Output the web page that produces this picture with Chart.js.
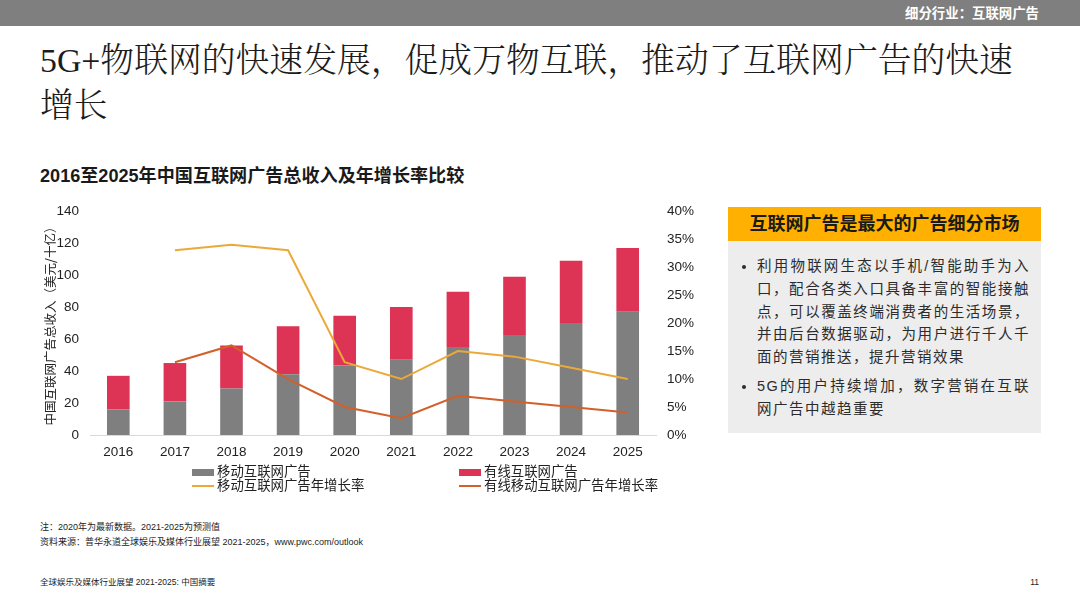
<!DOCTYPE html>
<html lang="zh">
<head>
<meta charset="utf-8">
<title>互联网广告</title>
<script src="https://cdn.jsdelivr.net/npm/chart.js@4"></script>
<style>
  html, body { margin: 0; padding: 0; background: #fff; }
  body { width: 1080px; height: 608px; position: relative; overflow: hidden;
         font-family: "Liberation Sans", "Noto Sans CJK SC", sans-serif; color: #222; }
  .abs { position: absolute; white-space: nowrap; }
  #topbar { left: 0; top: 0; width: 1080px; height: 26px; background: #7f7f7f; }
  #section { right: 41px; top: 5px; font-size: 13.4px; line-height: 18px; font-weight: bold; color: #fff; }
  #title { left: 40px; top: 38px; font-size: 33.8px; line-height: 45px; color: #1c1c1c;
           font-family: "Liberation Serif", "Noto Serif CJK SC", "Noto Sans CJK SC", serif; font-weight: 300; }
  #subtitle { left: 40px; top: 165px; font-size: 18.1px; line-height: 22px; font-weight: bold; color: #1a1a1a; }
  #chartbox { left: 0; top: 192px; width: 720px; height: 273px; }
  .leg { font-size: 13.4px; line-height: 14px; color: #222; }
  .swatch { position: absolute; }
  #panelhead { left: 728px; top: 207px; width: 313px; height: 34px; background: #ffb000; color: #1a1a1a;
               font-size: 18px; line-height: 34px; font-weight: bold; text-align: center; }
  #panel { left: 728px; top: 241px; width: 313px; height: 192px; background: #ededed; white-space: normal; }
  #panel ul { margin: 0; padding: 14px 11px 0 29px; font-size: 14.5px; line-height: 22.8px; color: #2b2b2b; letter-spacing: 1.5px; text-align: justify; }
  #panel li { margin-bottom: 6px; }
  #note { left: 40px; top: 520px; font-size: 9px; line-height: 15px; color: #222; }
  #foot { left: 40px; top: 576px; font-size: 8.5px; line-height: 12px; color: #222; }
  #page { right: 41px; top: 576px; font-size: 8.5px; line-height: 12px; color: #222; }
</style>
</head>
<body>
<div class="abs" id="topbar"></div>
<div class="abs" id="section">细分行业：互联网广告</div>
<div class="abs" id="title">5G+物联网的快速发展，促成万物互联，推动了互联网广告的快速<br>增长</div>
<div class="abs" id="subtitle">2016至2025年中国互联网广告总收入及年增长率比较</div>
<div class="abs" id="chartbox"><canvas id="myChart"></canvas></div>
<div id="legend"></div>
<div class="abs" id="panelhead">互联网广告是最大的广告细分市场</div>
<div class="abs" id="panel"><ul>
  <li>利用物联网生态以手机/智能助手为入口，配合各类入口具备丰富的智能接触点，可以覆盖终端消费者的生活场景，并由后台数据驱动，为用户进行千人千面的营销推送，提升营销效果</li>
  <li>5G的用户持续增加，数字营销在互联网广告中越趋重要</li>
</ul></div>
<div class="abs" id="note">注：2020年为最新数据。2021-2025为预测值<br>资料来源：普华永道全球娱乐及媒体行业展望 2021-2025，www.pwc.com/outlook</div>
<div class="abs" id="foot">全球娱乐及媒体行业展望 2021-2025: 中国摘要</div>
<div class="abs" id="page">11</div>

<script>
const years = ['2016', '2017', '2018', '2019', '2020', '2021', '2022', '2023', '2024', '2025'];
const mobileAds = [16, 21, 29, 38, 43.5, 47, 55, 62.5, 70, 77];
const wiredAds = [21, 24, 27, 30, 31, 33, 34.5, 36.5, 39, 40];
const mobileGrowth = [null, 33, 34, 33, 13, 10, 15, 14, 12, 10];
const wiredGrowth = [null, 13, 16, 10, 5, 3, 7, 6, 5, 4];

const GREY = '#7f7f7f';
const RED = '#dd3355';
const ORANGE = '#eba93a';
const DARK_ORANGE = '#d2602a';
const tickFont = { family: '"Liberation Sans", sans-serif', size: 13.5 };

const chart = new Chart(document.getElementById('myChart').getContext('2d'), {
  data: {
    labels: years,
    datasets: [
      { type: 'bar', label: '移动互联网广告', data: mobileAds, backgroundColor: GREY, stack: 's', yAxisID: 'y', order: 2, barPercentage: 0.4, categoryPercentage: 1 },
      { type: 'bar', label: '有线互联网广告', data: wiredAds, backgroundColor: RED, stack: 's', yAxisID: 'y', order: 2, barPercentage: 0.4, categoryPercentage: 1 },
      { type: 'line', label: '移动互联网广告年增长率', data: mobileGrowth, borderColor: ORANGE, borderWidth: 2, pointRadius: 0, tension: 0, yAxisID: 'y1', order: 1 },
      { type: 'line', label: '有线移动互联网广告年增长率', data: wiredGrowth, borderColor: DARK_ORANGE, borderWidth: 2, pointRadius: 0, tension: 0, yAxisID: 'y1', order: 1 }
    ]
  },
  options: {
    responsive: true,
    maintainAspectRatio: false,
    animation: false,
    layout: { padding: { top: 13, bottom: 0, left: 0, right: 0 } },
    plugins: { legend: { display: false }, tooltip: { enabled: false } },
    scales: {
      x: {
        stacked: true,
        grid: { display: false },
        border: { color: '#d9d9d9' },
        ticks: { color: '#222', font: tickFont, padding: 1, maxRotation: 0 },
        afterFit: (s) => { s.height = 30; }
      },
      y: {
        stacked: true,
        min: 0, max: 140,
        grid: { display: false, drawTicks: false },
        border: { display: false },
        ticks: { stepSize: 20, color: '#222', font: tickFont, padding: 11 },
        title: { display: true, text: '中国互联网广告总收入（美元/十亿）', color: '#222',
                 font: { family: '"Noto Sans CJK SC", sans-serif', size: 12.5 }, padding: { top: 43, bottom: 0 } },
        afterFit: (s) => { s.width = 90; }
      },
      y1: {
        position: 'right',
        min: 0, max: 40,
        grid: { display: false, drawTicks: false },
        border: { display: false },
        ticks: { stepSize: 5, color: '#222', font: tickFont, padding: 11,
                 callback: (v) => v + '%' },
        afterFit: (s) => { s.width = 64; }
      }
    }
  }
});

// legend in two columns under the chart, same as the slide
const legendSlots = [[192, 472], [459, 472], [192, 486], [459, 486]];
const legendBox = document.getElementById('legend');
chart.data.datasets.forEach((ds, i) => {
  const isBar = ds.type === 'bar';
  const sw = document.createElement('div');
  sw.className = 'swatch';
  sw.style.left = legendSlots[i][0] + 'px';
  sw.style.width = '22px';
  sw.style.top = (legendSlots[i][1] - (isBar ? 3.5 : 1)) + 'px';
  sw.style.height = (isBar ? 7 : 2) + 'px';
  sw.style.background = isBar ? ds.backgroundColor : ds.borderColor;
  legendBox.appendChild(sw);
  const txt = document.createElement('div');
  txt.className = 'abs leg';
  txt.textContent = ds.label;
  txt.style.left = (legendSlots[i][0] + 25) + 'px';
  txt.style.top = (legendSlots[i][1] - 7) + 'px';
  legendBox.appendChild(txt);
});
</script>
</body>
</html>
